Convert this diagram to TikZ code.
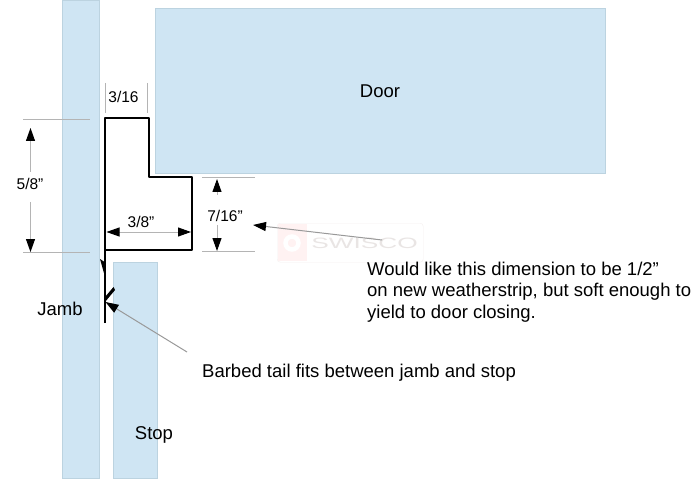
\documentclass[tikz,border=0pt]{standalone}
\usepackage{fontspec}
\setmainfont{Liberation Sans}
\usetikzlibrary{arrows.meta, positioning}
\definecolor{panelblue}{HTML}{CFE5F3}
\definecolor{paneledge}{HTML}{BCD3E0}
\definecolor{dimgray}{HTML}{B4B4B4}
\definecolor{markgray}{HTML}{F5F0EF}
\begin{document}
\begin{tikzpicture}[
        x=1pt, y=-1pt,
        panel/.style={rectangle, draw=paneledge, fill=panelblue, line width=0.8pt, inner sep=0pt, anchor=north west},
        label/.style={font=\fontsize{18.5}{21}\selectfont, inner sep=0pt},
        dimtext/.style={font=\fontsize{15.5}{18}\selectfont, inner sep=0pt},
        note/.style={font=\fontsize{18.5}{21.3}\selectfont, inner sep=0pt, align=left, anchor=north west},
        extline/.style={draw=dimgray, line width=1pt},
        dimarrow/.style={draw=dimgray, line width=1pt, -{Triangle[black, length=13pt, width=9pt]}},
        leader/.style={draw=gray!80, line width=1pt, -{Triangle[black, length=13pt, width=9pt]}},
        profile/.style={draw=black, line width=2.8pt, line join=round}
        ]
        \useasboundingbox (0,0) rectangle (700,486);

        % Panels
        \node (jamb) [panel, minimum width=36.8pt, minimum height=478pt] at (62,0) {};
        \node (stop) [panel, minimum width=43.8pt, minimum height=216pt] at (113,262) {};
        \node (door) [panel, minimum width=449.8pt, minimum height=165pt] at (155,8.5) {};
        \node (doortext) [label] at (380,91) {Door};
        \node (jambtext) [label] at (60,309) {Jamb};
        \node (stoptext) [label] at (154,435) {Stop};

        % Watermark
        \node (mark) [rectangle, rounded corners=3pt, draw=markgray, fill=white, minimum width=146pt, minimum height=39pt, anchor=north west] at (277,223) {};
        \fill [red!5] (278,224) rectangle (307,261);
        \node (marktext) [inner sep=0pt, text=markgray!90!gray, xscale=1.75, font=\fontsize{15}{15}\selectfont] at (364.5,243) {SWISCO};
        \draw [white, line width=4.5pt] (292,243) circle (6.5pt);

        % Weatherstrip
        \coordinate (tailend) at (105,323);
        \draw [profile] (tailend) -- (105,118) -- (149,118) -- (149,177) -- (192,177) -- (192,250) -- (105,250);
        \fill (100,259) -- (104.5,262) -- (104.5,275) -- cycle;
        \fill (113.5,287) -- (115,290) -- (105,302) -- (105,297) -- cycle;

        % Dimension lines
        \draw [extline] (105,83) -- (105,113);
        \draw [extline] (147,83) -- (147,113);
        \draw [extline] (23,120) -- (90,120);
        \draw [extline] (23,252) -- (90,252);
        \draw [extline] (202,178) -- (255,178);
        \draw [extline] (202,251) -- (255,251);

        % Dimension labels
        \node (top) [dimtext] at (123.5,97) {3/16};
        \node (left) [dimtext] at (30,184) {5/8”};
        \node (inner) [dimtext] at (141,222) {3/8”};
        \node (right) [dimtext] at (225,216) {7/16”};

        % Arrows
        \coordinate (leftup) at (30.5,128);
        \coordinate (leftdown) at (30.5,252);
        \coordinate (rightup) at (217,179);
        \coordinate (rightdown) at (217,251);
        \coordinate (innerleft) at (106.5,232);
        \coordinate (innerright) at (191,232);
        \draw [dimarrow] (30.5,172) -- (leftup);
        \draw [dimarrow] (30.5,202) -- (leftdown);
        \draw [dimarrow] (217,195) -- (rightup);
        \draw [dimarrow] (217,225) -- (rightdown);
        \draw [dimarrow] (148,232) -- (innerleft);
        \draw [dimarrow] (148,232) -- (innerright);

        % Notes
        \node (widthnote) [note] at (367,262) {Would like this dimension to be 1/2”\\on new weatherstrip, but soft enough to\\yield to door closing.};
        \node (tailnote) [label, anchor=west] at (202,373) {Barbed tail fits between jamb and stop};
        \coordinate (widthfrom) at (382,240);
        \coordinate (widthto) at (253,225);
        \coordinate (tailfrom) at (187,352);
        \coordinate (tailto) at (105.5,302);
        \draw [leader] (widthfrom) -- (widthto);
        \draw [leader] (tailfrom) -- (tailto);

    \end{tikzpicture}
\end{document}
